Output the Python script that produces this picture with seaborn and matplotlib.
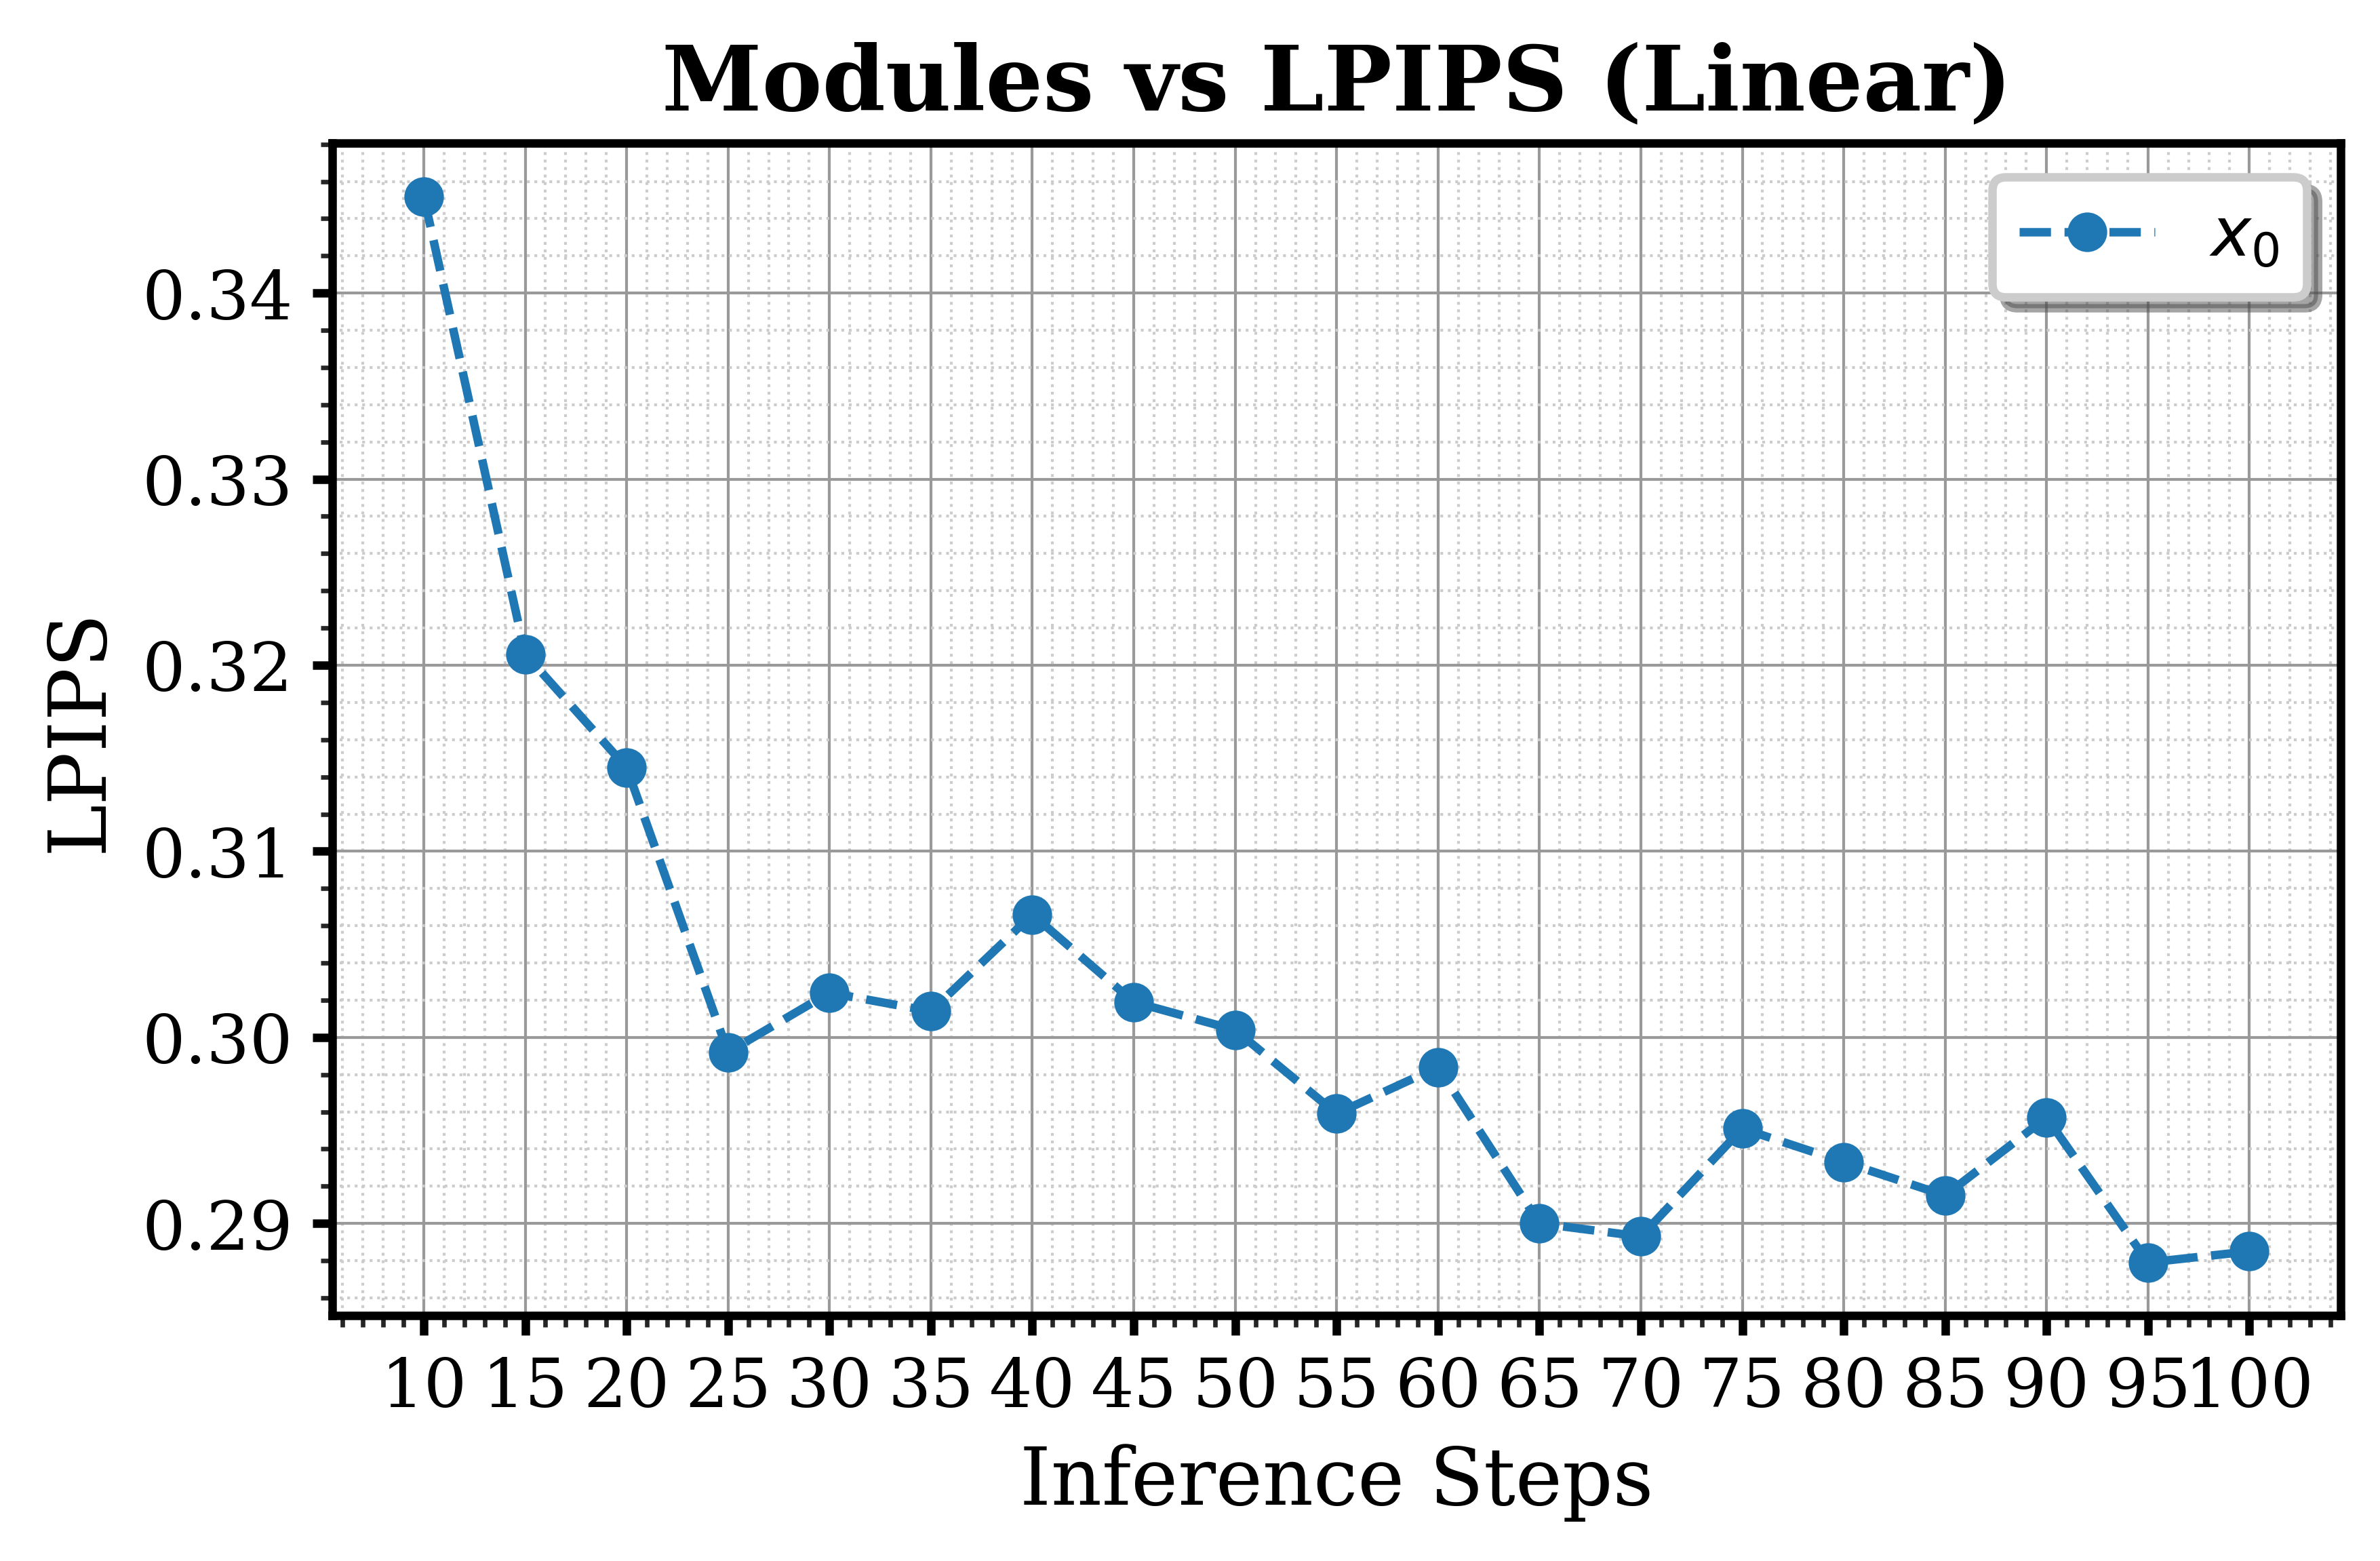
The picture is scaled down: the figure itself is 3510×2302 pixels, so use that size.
import numpy as np
import pandas as pd
import seaborn as sns
import matplotlib.pyplot as plt
from matplotlib.ticker import MultipleLocator, AutoMinorLocator

# values
inference_steps = [10, 15, 20, 25, 30, 35, 40, 45, 50, 55, 60, 65, 70, 75, 80, 85, 90, 95, 100]
lpips_values = [0.3452, 0.3206, 0.3145, 0.2992, 0.3024, 0.3014, 0.3066, 0.3019, 0.3004,
                0.2959, 0.2984, 0.2900, 0.2893, 0.2951, 0.2933, 0.2915, 0.2957, 0.2879, 0.2885]
series_label = '$x_0$'

df = pd.DataFrame({'steps': inference_steps, 'lpips': lpips_values})

sns.set_theme(style='ticks')
plt.rcParams['font.family'] = ['DejaVu Serif']
plt.rcParams['mathtext.fontset'] = 'dejavusans'
plt.rcParams['text.color'] = 'black'
plt.rcParams['axes.labelcolor'] = 'black'

fig = plt.figure(figsize=(5.85, 3.8383), dpi=600)
ax = fig.add_axes([0.1397, 0.157, 0.8438, 0.751])

#line with markers
sns.lineplot(data=df, x='steps', y='lpips', marker='o', linestyle='--', color='#1f77b4',
             linewidth=1.5, markersize=7, markeredgewidth=0, label=series_label, ax=ax)

#ticks and grid
ax.set_xticks(inference_steps)
ax.xaxis.set_minor_locator(MultipleLocator(1))
ax.yaxis.set_major_locator(MultipleLocator(0.01))
ax.yaxis.set_minor_locator(AutoMinorLocator(5))
ax.grid(which='major', color='#999999', linewidth=0.5, linestyle='-')
ax.grid(which='minor', color='#cccccc', linewidth=0.5, linestyle=':')
ax.set_axisbelow(True)
ax.tick_params(which='major', direction='out', length=3.5, width=1.5, labelsize=12, colors='black')
ax.tick_params(which='minor', direction='out', length=2, width=0.8)
ax.tick_params(top=False, right=False, which='both')

for s in ax.spines.values():
    s.set_linewidth(1.5)
    s.set_color('black')

#title and axis labels
ax.set_title('Modules vs LPIPS (Linear)', fontsize=16, fontweight='bold', color='black')
ax.set_xlabel('Inference Steps', fontsize=14)
ax.set_ylabel('LPIPS', fontsize=14)

leg = ax.legend(loc='upper right', fontsize=12, fancybox=True, shadow=True, framealpha=1)
leg.get_frame().set_edgecolor('#cccccc')
leg.get_frame().set_linewidth(1.5)
for t in leg.get_texts():
    t.set_family('DejaVu Sans')
    t.set_color('black')

plt.savefig('out.png', dpi=600)
